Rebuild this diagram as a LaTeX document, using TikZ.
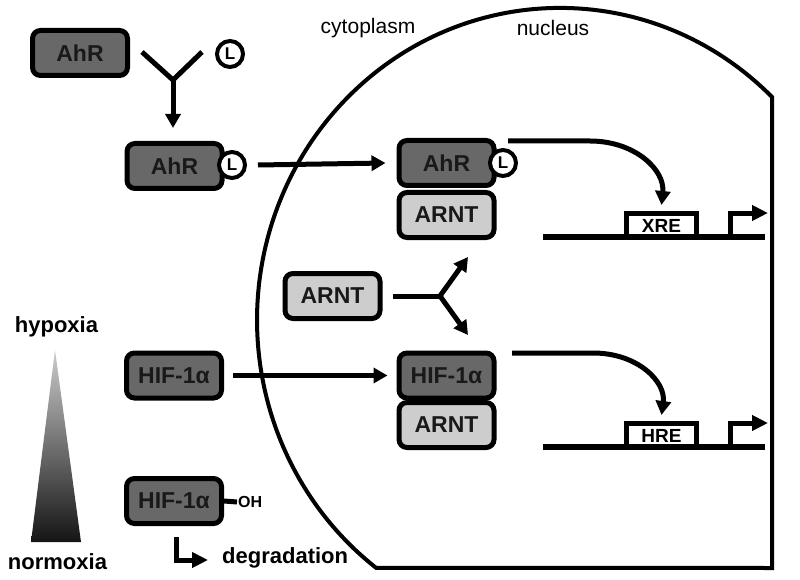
\documentclass[tikz,border=0pt]{standalone}
\usepackage{fontspec}
\setmainfont{Liberation Sans}
\usetikzlibrary{arrows.meta}
\definecolor{darkbox}{HTML}{686868}
\definecolor{lightbox}{HTML}{CDCDCD}
\tikzset{
 prot/.style={draw=black, line width=5pt, rounded corners=8pt, minimum width=95pt, minimum height=45pt, inner sep=0pt, font=\fontsize{23}{26}\selectfont\bfseries, text=black!90},
 darkp/.style={prot, fill=darkbox},
 lightp/.style={prot, fill=lightbox},
 lig/.style={circle, draw=black, line width=4pt, fill=white, minimum size=26pt, inner sep=0pt, font=\fontsize{17}{17}\selectfont\bfseries},
 arr/.style={line width=5pt, -{Triangle[length=14pt,width=15pt]}},
 thickline/.style={line width=5pt, line join=miter},
 dna/.style={line width=6pt},
 site/.style={draw=black, fill=white, line width=5pt, minimum width=70pt, minimum height=24pt, inner sep=0pt, font=\fontsize{19}{19}\selectfont\bfseries},
 lbl/.style={font=\fontsize{22}{24}\selectfont\bfseries, inner sep=0pt},
 reg/.style={font=\fontsize{21}{24}\selectfont, inner sep=0pt},
}
\begin{document}
\begin{tikzpicture}[x=1pt,y=1pt]
\useasboundingbox (0,0) rectangle (800,-580);
% nucleus
\draw[line width=4pt, line join=miter] (772,-568) -- (772,-97)
  arc[start angle=45.6, end angle=232.6, x radius=303, y radius=312] -- cycle;
\node[reg] (cyto) at (368,-28) {cytoplasm};
\node[reg] (nuc) at (553,-28) {nucleus};

% gradient triangle
\shade[top color=black!20, bottom color=black!92] (55,-350) -- (81,-542) -- (31,-542) -- cycle;
\node[lbl] (hyp) at (56.5,-327) {hypoxia};
\node[lbl] (norm) at (57.5,-562) {normoxia};

% AhR + ligand
\node[darkp] (ahr1) at (80,-53) {AhR};
\node[lig] (l1) at (230,-54) {L};
\coordinate (ya) at (142,-52);
\coordinate (yb) at (202,-52);
\coordinate (yj) at (173,-80);
\coordinate (yt) at (173,-128);
\draw[thickline] (ya) -- (yj) -- (yb);
\draw[arr] (yj) -- (yt);

\node[darkp] (ahr2) at (174.5,-166) {AhR};
\node[lig] (l2) at (232,-165) {L};

% complex 1
\node[darkp] (c1a) at (446.5,-163) {AhR};
\node[lightp] (c1b) at (446.5,-215) {ARNT};
\node[lig] (l3) at (503,-163) {L};
\draw[arr] ([xshift=11pt]l2.east) -- ([xshift=-11pt]c1a.west);

% DNA 1
\coordinate (d1a) at (543,-237);
\coordinate (d1b) at (765,-237);
\node[site] (xre) at (661.5,-225.5) {XRE};
\draw[dna] (d1a) -- (d1b);
\coordinate (p1a) at (730,-237);
\coordinate (p1b) at (730,-213);
\coordinate (p1c) at (768,-213);
\draw[arr, line join=miter, -{Triangle[length=16pt,width=15pt]}] (p1a) -- (p1b) -- (p1c);
\coordinate (s1) at (508,-141);
\draw[arr] (s1) -- (590,-141) .. controls (635,-141) and (665,-170) .. ([yshift=6pt]xre.north);

% free ARNT
\node[lightp] (arnt) at (332.5,-296) {ARNT};
\coordinate (fj) at (440,-296);
\coordinate (fu) at (468,-257);
\coordinate (fd) at (468,-335);
\draw[thickline] ([xshift=10pt]arnt.east) -- (fj);
\draw[arr] (fj) -- (fu);
\draw[arr] (fj) -- (fd);

% HIF
\node[darkp] (hif1) at (174,-375.5) {HIF-1α};
\node[darkp] (c2a) at (446.5,-375.5) {HIF-1α};
\node[lightp] (c2b) at (446.5,-425) {ARNT};
\draw[arr] ([xshift=9pt]hif1.east) -- ([xshift=-9pt]c2a.west);

% DNA 2
\coordinate (d2a) at (543,-447);
\coordinate (d2b) at (765,-447);
\node[site] (hre) at (661.5,-435.5) {HRE};
\draw[dna] (d2a) -- (d2b);
\coordinate (p2a) at (730,-447);
\coordinate (p2b) at (730,-423);
\coordinate (p2c) at (768,-423);
\draw[arr, line join=miter, -{Triangle[length=16pt,width=15pt]}] (p2a) -- (p2b) -- (p2c);
\coordinate (s2) at (512,-353);
\draw[arr] (s2) -- (593,-353) .. controls (638,-353) and (666,-382) .. ([yshift=6pt]hre.north);

% hydroxylated HIF
\node[darkp] (hif2) at (174,-501) {HIF-1α};
\node[font=\fontsize{16}{16}\selectfont\bfseries, inner sep=1pt, anchor=west] (oh) at (237,-502) {OH};
\draw[line width=5pt] (hif2.east) -- (oh.west);
\coordinate (g1) at (176,-537);
\coordinate (g2) at (176,-560);
\coordinate (g3) at (208,-560);
\draw[arr, line join=miter, -{Triangle[length=16pt,width=15pt]}] (g1) -- (g2) -- (g3);
\node[lbl, anchor=west] (deg) at (222,-558) {degradation};
\end{tikzpicture}
\end{document}
